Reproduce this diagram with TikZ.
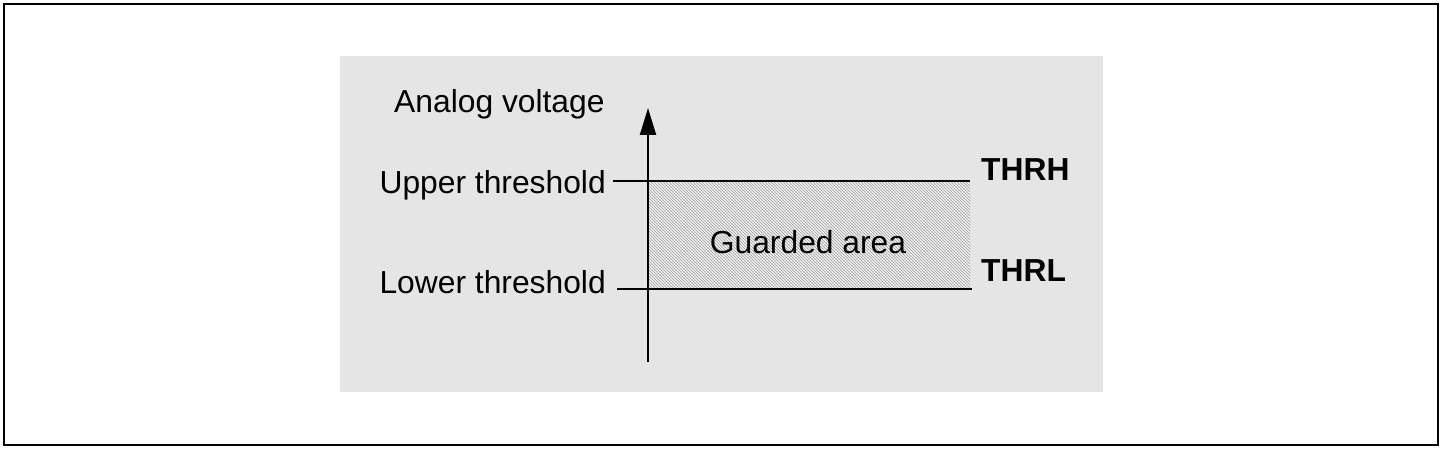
\documentclass[tikz,border=0pt]{standalone}
\usepackage{fontspec}
\setmainfont{Liberation Sans}
\usetikzlibrary{patterns,arrows.meta}
\begin{document}
\begin{tikzpicture}[x=1pt,y=-1pt,
  lbl/.style={inner sep=0pt,font=\fontsize{31.8}{36}\selectfont},
  blbl/.style={lbl,font=\fontsize{31.8}{36}\selectfont\bfseries},
  thline/.style={line width=2pt}]
\useasboundingbox (0,0) rectangle (1442,449);
\draw[line width=2pt] (4,4) rectangle (1438,445);
\fill[gray!20] (340,56) rectangle (1103,392);
\fill[gray!10] (648,181) rectangle (970,289);
\fill[pattern=north west lines,pattern color=gray!80] (648,181) rectangle (970,289);
\coordinate (ub) at (648,362);
\coordinate (ut) at (648,108);
\draw[line width=2pt,-{Triangle[length=27pt,width=16pt]}] (ub) -- (ut);
\coordinate (u1) at (613,181);
\coordinate (u2) at (970,181);
\coordinate (l1) at (617,289);
\coordinate (l2) at (972,289);
\draw[thline] (u1) -- (u2);
\draw[thline] (l1) -- (l2);
\node[lbl,anchor=west] (av) at (394,104) {Analog voltage};
\node[lbl,anchor=east] (utx) at (606,185) {Upper threshold};
\node[lbl,anchor=east] (lt) at (606,282) {Lower threshold};
\node[lbl] (ga) at (808,242) {Guarded area};
\node[blbl,anchor=west] (th) at (981,170) {THRH};
\node[blbl,anchor=west] (tl) at (981,271) {THRL};
\end{tikzpicture}
\end{document}
